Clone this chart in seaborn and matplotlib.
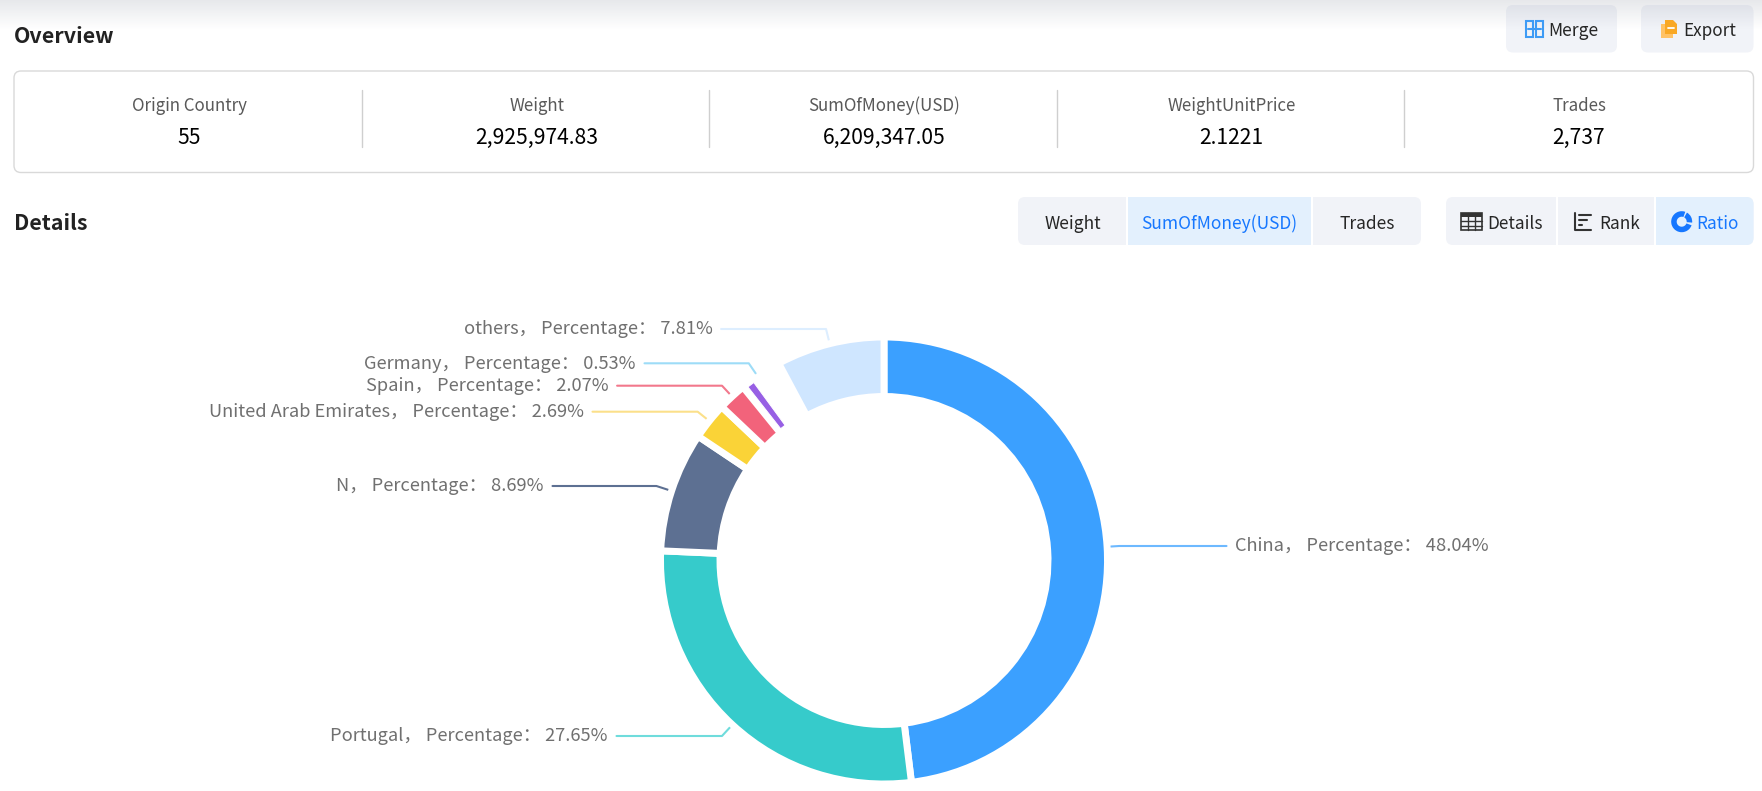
import numpy as np
import matplotlib.pyplot as plt
import seaborn as sns
from matplotlib.patches import FancyBboxPatch, Rectangle, Wedge, Polygon

# Data
countries = ['China', 'Portugal', 'N', 'United Arab Emirates', 'Spain', 'Germany', 'others']
percentages = [48.04, 27.65, 8.69, 2.69, 2.07, 0.53, 7.81]
slice_colors = ['#3BA0FF', '#36CBCB', '#5D7092', '#FAD337', '#F2637B', '#975FE4', '#CFE6FF']
line_colors = ['#6DB9FF', '#6FDCDC', '#5D7092', '#FBE08A', '#F2788C', '#9DDCF7', '#DDEEFF']

summary_titles = ['Origin Country', 'Weight', 'SumOfMoney(USD)', 'WeightUnitPrice', 'Trades']
summary_values = ['55', '2,925,974.83', '6,209,347.05', '2.1221', '2,737']
metric_tabs = ['Weight', 'SumOfMoney(USD)', 'Trades']

W, H = 1762, 791
CX, CY = 884, 560.5
BLUE = '#1677FF'
BTN = '#F1F3F8'
ACTIVE = '#E3F0FD'

sns.set_theme(style='white')
plt.rcParams['font.family'] = ['Noto Sans CJK SC', 'DejaVu Sans']

fig = plt.figure(figsize=(W / 100, H / 100), dpi=100)

# page axes, 1 unit = 1 pixel, y going down like the screenshot
page = fig.add_axes([0, 0, 1, 1])
page.set_axis_off()


def round_box(x0, y0, x1, y1, color, edge='none', r=7, z=1):
    box = FancyBboxPatch((x0 + r, y0 + r), x1 - x0 - 2 * r, y1 - y0 - 2 * r,
                         boxstyle=f'round,pad={r},rounding_size={r}',
                         fc=color, ec=edge, lw=1, zorder=z)
    page.add_patch(box)


def rect(x0, y0, x1, y1, color, z=2):
    page.add_patch(Rectangle((x0, y0), x1 - x0, y1 - y0, fc=color, ec='none', zorder=z))


def label(x, y, s, size=12, color='#262626', ha='center', weight='normal'):
    page.text(x, y + 2, s, fontsize=size, color=color, ha=ha, va='center', fontweight=weight, zorder=6)


# titles and summary panel
label(13.5, 34.5, 'Overview', 15.4, '#222222', 'left', 'bold')
label(13.5, 222, 'Details', 15.4, '#222222', 'left', 'bold')
round_box(14, 71, 1753.5, 172.5, 'white', '#D9D9D9', r=7)
for x in [361.7, 709, 1056.6, 1404]:
    page.plot([x, x], [90, 147], color='#CFCFCF', lw=1, zorder=2)
for x, t, v in zip([189, 536.7, 884, 1231.5, 1579], summary_titles, summary_values):
    label(x, 104, t, 12.2, '#595959')
    label(x, 135.5, v, 15.2, '#000000')

# top buttons
round_box(1506, 5, 1617, 52.5, BTN)
round_box(1641, 5, 1753.5, 52.5, BTN)
label(1548.5, 29.5, 'Merge', 12.6, ha='left')
label(1683, 29.5, 'Export', 12.3, ha='left')

# merge icon
for x0 in [1525.5, 1535.5]:
    page.add_patch(Rectangle((x0, 21), 7, 15.5, fc='none', ec='#3E9BF5', lw=1.5, zorder=5))
page.plot([1528, 1540.5], [28.8, 28.8], color='#3E9BF5', lw=1.5, zorder=5)

# export icon
rect(1661, 24, 1673, 37.5, '#FFC266', 5)
page.add_patch(Polygon([(1665, 20), (1673, 20), (1677, 24), (1677, 34), (1665, 34)],
                       fc='#F9A825', ec='none', zorder=5))
page.plot([1667.5, 1673.5], [27.5, 27.5], color='white', lw=1.3, zorder=6)

# metric tabs
round_box(1018, 197, 1421, 245, BTN)
rect(1126, 197, 1128, 245, 'white')
rect(1128, 197, 1311, 245, ACTIVE)
rect(1311, 197, 1313, 245, 'white')
for x, t in zip([1072.5, 1219.7, 1367.5], metric_tabs):
    label(x, 222, t, 12.5, BLUE if t == 'SumOfMoney(USD)' else '#262626')

# view tabs
round_box(1446, 197, 1753.5, 245, BTN)
round_box(1656, 197, 1753.5, 245, ACTIVE, z=2)
rect(1656, 197, 1680, 245, ACTIVE)
rect(1556, 197, 1558, 245, 'white')
rect(1654, 197, 1656, 245, 'white')
label(1487, 222, 'Details', 12.4, ha='left')
label(1599, 222, 'Rank', 12.4, ha='left')
label(1696.5, 222, 'Ratio', 12.4, BLUE, 'left')

# table icon
page.add_patch(Rectangle((1461, 213), 21, 17, fc='none', ec='#333333', lw=1.2, zorder=5))
rect(1461, 213, 1482, 217, '#333333', 5)
for y in [221, 225.5]:
    page.plot([1461, 1482], [y, y], color='#333333', lw=1, zorder=5)
for x in [1468, 1475]:
    page.plot([x, x], [213, 230], color='#333333', lw=1, zorder=5)

# rank icon
page.plot([1575, 1575, 1591], [213, 230, 230], color='#333333', lw=1.5, zorder=5)
for y, x1 in zip([215, 220, 225], [1591, 1587, 1582]):
    page.plot([1579, x1], [y, y], color='#333333', lw=1.5, zorder=5)

# ratio icon
for t0, t1 in [(-60, 5), (20, 290)]:
    page.add_patch(Wedge((1681.7, 221.7), 10.5, t0, t1, width=5.5, fc=BLUE, ec='none', zorder=5))

# fade at the very top of the page, over the buttons
fade = np.zeros((30, 1, 4))
fade[:, :, :3] = [0.45, 0.48, 0.55]
fade[:, 0, 3] = np.linspace(0.17, 0, 30)
page.imshow(fade, extent=[0, W, 30, 0], aspect='auto', zorder=4)
page.set_xlim(0, W)
page.set_ylim(H, 0)

# donut, axes centred on the ring with 1 unit = 1 pixel
pie_ax = fig.add_axes([(CX - 250) / W, (H - CY - 250) / H, 500 / W, 500 / H])
hidden_share = 100 - sum(percentages)
values = percentages[:-1] + [hidden_share] + percentages[-1:]
colors = sns.color_palette(slice_colors[:-1] + ['#FFFFFF'] + slice_colors[-1:])

wedges, _ = pie_ax.pie(values, colors=colors, startangle=90, counterclock=False,
                       radius=223.5, frame=False,
                       wedgeprops=dict(width=59.5, edgecolor='white', linewidth=5))
pie_ax.set_xlim(-250, 250)
pie_ax.set_ylim(-250, 250)
pie_ax.set_aspect('equal')
pie_ax.patch.set_visible(False)
wedges[6].set_visible(False)

# the Germany sliver is drawn thin, a plain white stroke would eat it
wedges[5].set_radius(220.5)
wedges[5].set_width(53)
wedges[5].set_linewidth(0.7)
wedges[5].set_theta1(wedges[5].theta1 - 1)
wedges[5].set_theta2(wedges[5].theta2 - 1)
wedges[7].set_zorder(3)

# leader lines and labels
leader_y = [546, 736, 486, 411.7, 385.7, 363.3, 329]
text_edge = [1235, 608, 544, 584, 608.6, 636, 712.6]
leader_nudge = [0, 0, 0, 0, 0, 3.7, 0]

cum = 0
mids = []
for v in values:
    mids.append(cum + v / 2)
    cum += v
mids = mids[:6] + mids[7:]

for name, pct, mid, col, ly, edge, nudge in zip(countries, percentages, mids, line_colors,
                                                 leader_y, text_edge, leader_nudge):
    ang = np.radians(mid * 3.6 + nudge)
    dx, dy = np.sin(ang), -np.cos(ang)
    x0, y0 = CX + 227 * dx, CY + 227 * dy
    xe = CX + dx * (ly - CY) / dy
    right_side = dx > 0
    x2 = edge - 8.5 if right_side else edge + 8.5
    page.plot([x0, xe, x2], [y0, ly, ly], color=col, lw=1.5, zorder=5, solid_joinstyle='round')
    page.text(edge, ly + 0.3, f'{name}， Percentage： {pct:.2f}%', fontsize=13.15, color='#707070',
              ha='left' if right_side else 'right', va='center', zorder=6)

fig.savefig('out.png', dpi=100)
